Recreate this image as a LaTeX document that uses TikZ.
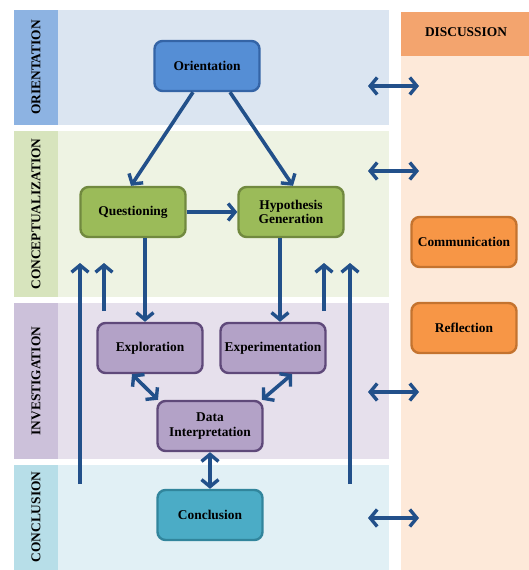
\documentclass[tikz,border=0pt]{standalone}
\usepackage{fontspec}
\setmainfont{Liberation Serif}
\usepackage{tikz}
\usetikzlibrary{
  positioning,
  arrows.meta
}
\usepackage{xcolor}
\definecolor{arrowblue}{HTML}{22508A}
\definecolor{oristrip}{HTML}{8DB3E2}
\definecolor{oribg}{HTML}{DBE5F1}
\definecolor{orifill}{HTML}{558ED5}
\definecolor{oridraw}{HTML}{3464A6}
\definecolor{constrip}{HTML}{D7E4BD}
\definecolor{conbg}{HTML}{EEF3E3}
\definecolor{confill}{HTML}{9BBB59}
\definecolor{condraw}{HTML}{71893F}
\definecolor{invstrip}{HTML}{CCC1DA}
\definecolor{invbg}{HTML}{E6E0EC}
\definecolor{invfill}{HTML}{B3A2C7}
\definecolor{invdraw}{HTML}{5F497A}
\definecolor{clstrip}{HTML}{B7DEE8}
\definecolor{clbg}{HTML}{E1F0F5}
\definecolor{clfill}{HTML}{4BACC6}
\definecolor{cldraw}{HTML}{31859C}
\definecolor{dischead}{HTML}{F3A46E}
\definecolor{discbody}{HTML}{FDE9D9}
\definecolor{discfill}{HTML}{F79646}
\definecolor{discdraw}{HTML}{C4732F}

\begin{document}
\begin{tikzpicture}[x=1pt,y=-1pt,>={Straight Barb[length=7pt,width=17pt,line width=3.4pt]},
    every node/.style={font=\fontsize{13.4}{14.8}\selectfont\bfseries},
    stage/.style={rounded corners=8pt,line width=2.4pt,minimum width=105pt,minimum height=50pt,inner sep=2pt,align=center},
    link/.style={draw=arrowblue,line width=3.6pt,->},
    both/.style={draw=arrowblue,line width=3.6pt,<->}]
            \useasboundingbox (0,0) rectangle (529,570);
            \fill[oribg] (58,10) rectangle (389,125);
            \fill[oristrip] (14,10) rectangle (58,125);
            \fill[conbg] (58,131) rectangle (389,297);
            \fill[constrip] (14,131) rectangle (58,297);
            \fill[invbg] (58,303) rectangle (389,459);
            \fill[invstrip] (14,303) rectangle (58,459);
            \fill[clbg] (58,465) rectangle (389,570);
            \fill[clstrip] (14,465) rectangle (58,570);
            \fill[discbody] (401,56) rectangle (529,570);
            \fill[dischead] (401,12) rectangle (529,56);

            \node[rotate=90] (orilabel) at (36,67.5) {ORIENTATION};
            \node[rotate=90] (conlabel) at (36,214) {CONCEPTUALIZATION};
            \node[rotate=90] (invlabel) at (36,381) {INVESTIGATION};
            \node[rotate=90] (cllabel) at (36,517) {CONCLUSION};
            \node (disclabel) at (466,32) {DISCUSSION};

            \node[stage,fill=orifill,draw=oridraw] (orient) at (207,66) {Orientation};
            \node[stage,fill=confill,draw=condraw] (quest) at (133,212) {Questioning};
            \node[stage,fill=confill,draw=condraw] (hypo) at (291,212) {Hypothesis\\Generation};
            \node[stage,fill=invfill,draw=invdraw] (explo) at (150,348) {Exploration};
            \node[stage,fill=invfill,draw=invdraw] (exper) at (273,348) {Experimentation};
            \node[stage,fill=invfill,draw=invdraw] (datai) at (210,426) {Data\\Interpretation};
            \node[stage,fill=clfill,draw=cldraw] (concl) at (210,515) {Conclusion};
            \node[stage,fill=discfill,draw=discdraw] (comm) at (464,242) {Communication};
            \node[stage,fill=discfill,draw=discdraw] (refl) at (464,328) {Reflection};

            \draw[link] ([xshift=-14pt]orient.south) -- ([xshift=-2pt]quest.north);
            \draw[link] ([xshift=23pt]orient.south) -- ([xshift=2pt]hypo.north);
            \draw[link] (quest.east) -- (hypo.west);
            \draw[link] ([xshift=12pt]quest.south) -- ([xshift=-5pt]explo.north);
            \draw[link] ([xshift=-11pt]hypo.south) -- ([xshift=7pt]exper.north);
            \draw[both] ([xshift=-18pt]explo.south) -- ([xshift=-52pt]datai.north);
            \draw[both] ([xshift=19pt]exper.south) -- ([xshift=52pt]datai.north);
            \draw[both] (datai.south) -- (concl.north);

            \foreach \x/\y/\n in {80/484/a,104/311/b,324/311/c,350/484/d} {
                \coordinate (back\n) at (\x,\y);
                \coordinate (up\n) at (\x,263);
                \draw[link] (back\n) -- (up\n);
            }
            \foreach \y/\n in {86/a,171/b,392/c,518/d} {
                \coordinate (dl\n) at (368,\y);
                \coordinate (dr\n) at (419,\y);
                \draw[both] (dl\n) -- (dr\n);
            }
        \end{tikzpicture}
\end{document}
